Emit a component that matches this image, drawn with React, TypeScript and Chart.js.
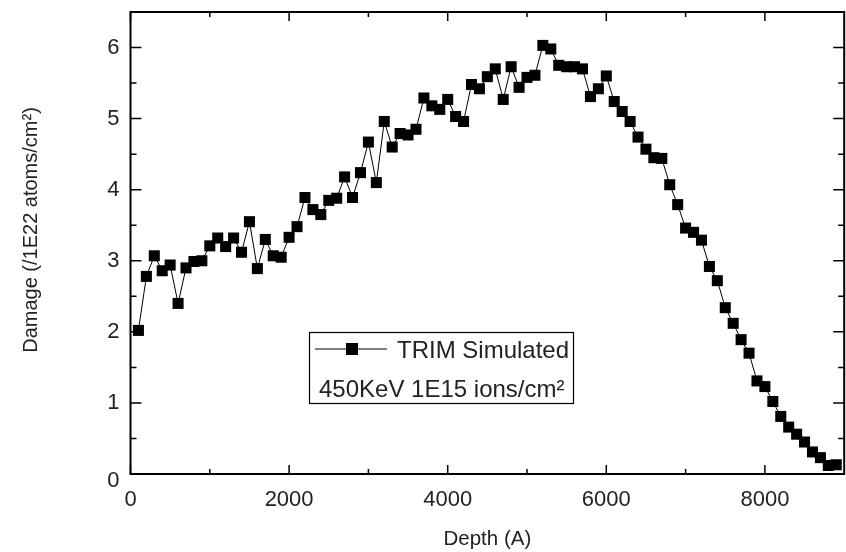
import React, { useEffect, useRef } from 'react';
import { Chart, registerables } from 'chart.js';

Chart.register(...registerables);

// ---- data ----
const depths = [
  100, 200, 300, 400, 500, 600, 700, 800, 900, 1000,
  1100, 1200, 1300, 1400, 1500, 1600, 1700, 1800, 1900, 2000,
  2100, 2200, 2300, 2400, 2500, 2600, 2700, 2800, 2900, 3000,
  3100, 3200, 3300, 3400, 3500, 3600, 3700, 3800, 3900, 4000,
  4100, 4200, 4300, 4400, 4500, 4600, 4700, 4800, 4900, 5000,
  5100, 5200, 5300, 5400, 5500, 5600, 5700, 5800, 5900, 6000,
  6100, 6200, 6300, 6400, 6500, 6600, 6700, 6800, 6900, 7000,
  7100, 7200, 7300, 7400, 7500, 7600, 7700, 7800, 7900, 8000,
  8100, 8200, 8300, 8400, 8500, 8600, 8700, 8800, 8900,
];

const damage = [
  2.02, 2.78, 3.07, 2.86, 2.94, 2.40, 2.90, 2.99, 3.00, 3.21,
  3.32, 3.20, 3.32, 3.12, 3.55, 2.89, 3.30, 3.07, 3.05, 3.33,
  3.48, 3.89, 3.72, 3.65, 3.85, 3.88, 4.18, 3.89, 4.24, 4.67,
  4.10, 4.96, 4.60, 4.79, 4.77, 4.85, 5.29, 5.18, 5.13, 5.27,
  5.03, 4.96, 5.48, 5.42, 5.59, 5.70, 5.27, 5.73, 5.44, 5.58,
  5.61, 6.03, 5.98, 5.75, 5.73, 5.73, 5.70, 5.31, 5.42, 5.60,
  5.24, 5.10, 4.96, 4.74, 4.57, 4.45, 4.44, 4.07, 3.79, 3.46,
  3.40, 3.29, 2.92, 2.72, 2.34, 2.12, 1.89, 1.70, 1.31, 1.23,
  1.02, 0.81, 0.66, 0.56, 0.45, 0.31, 0.23, 0.12, 0.13,
];

const seriesLabel = 'TRIM Simulated';
const legendNote = '450KeV 1E15 ions/cm²';
const xTitle = 'Depth (A)';
const yTitle = 'Damage (/1E22 atoms/cm²)';

const xMajorTicks = [0, 2000, 4000, 6000, 8000];
const xMinorTicks = [1000, 3000, 5000, 7000];
const yMajorTicks = [0, 1, 2, 3, 4, 5, 6];
const yMinorTicks = [0.5, 1.5, 2.5, 3.5, 4.5, 5.5, 6.5];

const FONT = '"Liberation Sans", Arial, Helvetica, sans-serif';
const TEXT = '#222';

const framePlugin = {
  id: 'frameTicks',
  afterDatasetsDraw(chart: any) {
    const { ctx, chartArea: a, scales } = chart;
    const x = scales.x;
    const y = scales.y;
    ctx.save();
    ctx.strokeStyle = '#000';
    ctx.lineWidth = 2;
    ctx.strokeRect(a.left, a.top, a.right - a.left, a.bottom - a.top);
    ctx.lineWidth = 1.5;
    ctx.beginPath();
    const xt = (v: number, len: number) => {
      const px = x.getPixelForValue(v);
      ctx.moveTo(px, a.bottom);
      ctx.lineTo(px, a.bottom - len);
      ctx.moveTo(px, a.top);
      ctx.lineTo(px, a.top + len);
    };
    const yt = (v: number, len: number) => {
      const py = y.getPixelForValue(v);
      ctx.moveTo(a.left, py);
      ctx.lineTo(a.left + len, py);
      ctx.moveTo(a.right, py);
      ctx.lineTo(a.right - len, py);
    };
    xMajorTicks.forEach((v) => xt(v, 9));
    xMinorTicks.forEach((v) => xt(v, 5));
    yMajorTicks.forEach((v) => yt(v, 11));
    yMinorTicks.forEach((v) => yt(v, 6));
    ctx.stroke();
    ctx.restore();
  },
};

const legendPlugin = {
  id: 'boxLegend',
  afterDraw(chart: any) {
    const { ctx } = chart;
    const ds = chart.data.datasets[0];
    ctx.save();
    ctx.strokeStyle = '#000';
    ctx.lineWidth = 1.2;
    ctx.strokeRect(309.5, 332.5, 264, 71);
    ctx.lineWidth = 1;
    ctx.beginPath();
    ctx.moveTo(315, 349);
    ctx.lineTo(387, 349);
    ctx.stroke();
    ctx.fillStyle = '#000';
    ctx.fillRect(346, 343, 12, 12);
    ctx.fillStyle = TEXT;
    ctx.font = `24px ${FONT}`;
    ctx.textBaseline = 'alphabetic';
    ctx.textAlign = 'left';
    ctx.fillText(ds.label, 397, 358);
    ctx.fillText(legendNote, 319, 397);
    // vertical axis title
    ctx.translate(31, 230);
    ctx.rotate(-Math.PI / 2);
    ctx.font = `20px ${FONT}`;
    ctx.textAlign = 'center';
    ctx.textBaseline = 'middle';
    ctx.fillText(yTitle, 0, 0);
    ctx.restore();
  },
};

export default function App() {
  const ref = useRef<HTMLCanvasElement>(null);

  useEffect(() => {
    const canvas = ref.current;
    if (!canvas) return;
    const chart = new Chart(canvas, {
      type: 'line',
      data: {
        datasets: [
          {
            label: seriesLabel,
            data: depths.map((d, i) => ({ x: d, y: damage[i] })),
            borderColor: '#000',
            backgroundColor: '#000',
            borderWidth: 1,
            pointStyle: 'rect',
            pointRadius: 7.8,
            pointBorderWidth: 0,
            pointBackgroundColor: '#000',
            tension: 0,
            clip: false,
          } as any,
        ],
      },
      options: {
        animation: false,
        responsive: false,
        layout: { padding: { top: 12, right: 3.5, left: 0, bottom: 0 } },
        plugins: {
          legend: { display: false },
          tooltip: { enabled: false },
        },
        scales: {
          x: {
            type: 'linear',
            min: 0,
            max: 9000,
            grid: { display: false, drawTicks: false },
            border: { display: false },
            afterBuildTicks: (s: any) => {
              s.ticks = xMajorTicks.map((v) => ({ value: v }));
            },
            ticks: {
              autoSkip: false,
              maxRotation: 0,
              minRotation: 0,
              padding: 13,
              color: TEXT,
              font: { family: FONT, size: 22 },
              callback: (v: any) => String(v),
            },
            title: {
              display: true,
              text: xTitle,
              color: TEXT,
              font: { family: FONT, size: 20.5 },
              padding: { top: 0, bottom: 0 },
            },
            afterFit: (s: any) => {
              s.height = 78;
              s.paddingLeft = 0;
              s.paddingRight = 0;
            },
          },
          y: {
            type: 'linear',
            min: 0,
            max: 6.5,
            grid: { display: false, drawTicks: false },
            border: { display: false },
            afterBuildTicks: (s: any) => {
              s.ticks = yMajorTicks.map((v) => ({ value: v }));
            },
            ticks: {
              autoSkip: false,
              padding: 11,
              color: TEXT,
              font: { family: FONT, size: 22, lineHeight: 0.65 },
              callback: (v: any) => (v === 0 ? ['', '0'] : String(v)),
            },
            title: { display: false },
            afterFit: (s: any) => {
              s.width = 130.5;
              s.paddingTop = 0;
              s.paddingBottom = 0;
            },
          },
        },
      } as any,
      plugins: [framePlugin, legendPlugin],
    });
    return () => chart.destroy();
  }, []);

  return (
    <div
      style={{
        position: 'fixed',
        left: 0,
        top: 0,
        width: 846,
        height: 552,
        overflow: 'hidden',
        background: '#fff',
      }}
    >
      <canvas ref={ref} width={852} height={552} style={{ display: 'block' }} />
    </div>
  );
}
